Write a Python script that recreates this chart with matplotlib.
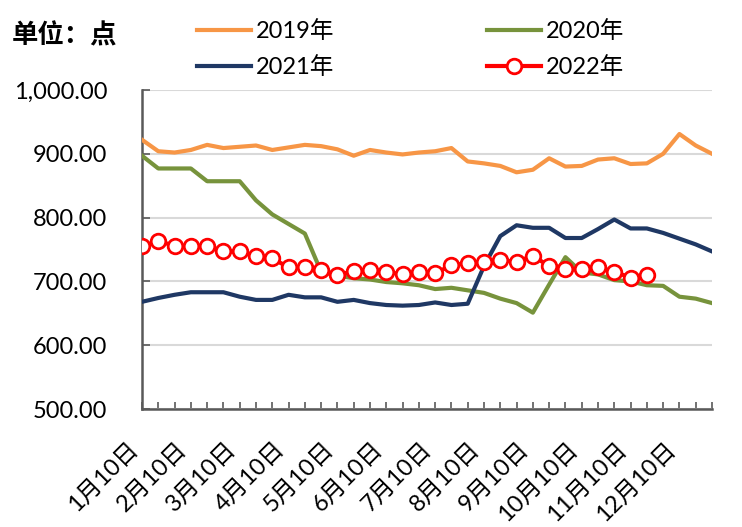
import matplotlib
matplotlib.use('Agg')
import matplotlib.pyplot as plt
from matplotlib.ticker import FuncFormatter
import numpy as np

# 字体：数字用 Lato，中文回退到 Noto Sans CJK SC
plt.rcParams['font.family'] = ['Lato', 'Noto Sans CJK SC']

# 每月 10/20/30 日三个点
months = [f"{m}月" for m in range(1, 13)]
days = ["10日", "20日", "30日"]
dates = [m + d for m in months for d in days]

s2019 = [922, 904, 902, 906, 914, 909, 911, 913, 906, 910, 914, 912,
         907, 897, 906, 902, 899, 902, 904, 909, 888, 885, 881, 871,
         875, 893, 880, 881, 891, 893, 884, 885, 900, 931, 913, 900]
s2020 = [897, 877, 877, 877, 857, 857, 857, 827, 805, 790, 775, 715,
         709, 705, 703, 699, 697, 694, 688, 690, 686, 682, 673, 666,
         651, 695, 738, 714, 711, 702, 700, 694, 693, 676, 673, 666]
s2021 = [668, 674, 679, 683, 683, 683, 676, 671, 671, 679, 675, 675,
         668, 671, 666, 663, 662, 663, 667, 663, 665, 724, 771, 788,
         784, 784, 768, 768, 782, 797, 783, 783, 776, 767, 758, 747]
s2022 = [755, 763, 756, 756, 756, 747, 747, 740, 736, 722, 722, 718,
         710, 716, 718, 715, 711, 715, 713, 725, 729, 730, 733, 731,
         740, 724, 719, 720, 722, 715, 706, 710]

series_labels = ["2019年", "2020年", "2021年", "2022年"]
colors = ["#F79646", "#77933C", "#1F3864", "#FF0000"]

fig = plt.figure(figsize=(7.42, 5.27), dpi=100)
ax = fig.add_axes([142 / 742, 1 - 409 / 527, 570 / 742, 319 / 527])

x = np.arange(len(dates))
lw = 3.0
h2019, = ax.plot(x, s2019, color=colors[0], lw=lw, zorder=3)
h2020, = ax.plot(x, s2020, color=colors[1], lw=lw, zorder=3)
h2021, = ax.plot(x, s2021, color=colors[2], lw=lw, zorder=3)
h2022, = ax.plot(np.arange(len(s2022)), s2022, color=colors[3], lw=lw,
                 marker='o', markersize=10.5, markerfacecolor='white',
                 markeredgecolor=colors[3], markeredgewidth=2, zorder=4)

ax.set_xlim(0, len(dates) - 1)
ax.set_ylim(500, 1000)
ax.set_yticks(np.arange(500, 1001, 100))
ax.yaxis.set_major_formatter(FuncFormatter(lambda v, p: f"{v:,.2f}"))
ax.grid(axis='y', color='#D9D9D9', lw=1.5, zorder=0)
ax.set_axisbelow(True)

# x 轴：每个点一个刻度，只在每月 10 日写标签
ax.set_xticks(x)
ax.set_xticklabels([d if i % 3 == 0 else "" for i, d in enumerate(dates)],
                   rotation=45, ha='right', va='top')

for side in ['top', 'right']:
    ax.spines[side].set_visible(False)
for side in ['left', 'bottom']:
    ax.spines[side].set_color('#595959')
    ax.spines[side].set_linewidth(1.8)

ax.tick_params(axis='x', direction='in', length=5, width=1.2, color='#595959',
               labelsize=17, pad=21)
ax.tick_params(axis='y', direction='in', length=6, width=1.2, color='#595959',
               labelsize=17, pad=25)

# 图例
fig.legend([h2019, h2021, h2020, h2022],
           [series_labels[0], series_labels[2], series_labels[1], series_labels[3]],
           ncol=2, loc='upper left', bbox_to_anchor=(197 / 742, 1 - 20 / 527),
           frameon=False, fontsize=17, handlelength=2.3, handletextpad=0.2,
           columnspacing=6.45, labelspacing=0.6, borderpad=0, borderaxespad=0)

fig.text(12 / 742, 1 - 36 / 527, "单位：点", fontsize=19, fontweight='bold',
         va='center', ha='left', family=['Noto Sans CJK SC'])

fig.savefig('out.png', dpi=100)
